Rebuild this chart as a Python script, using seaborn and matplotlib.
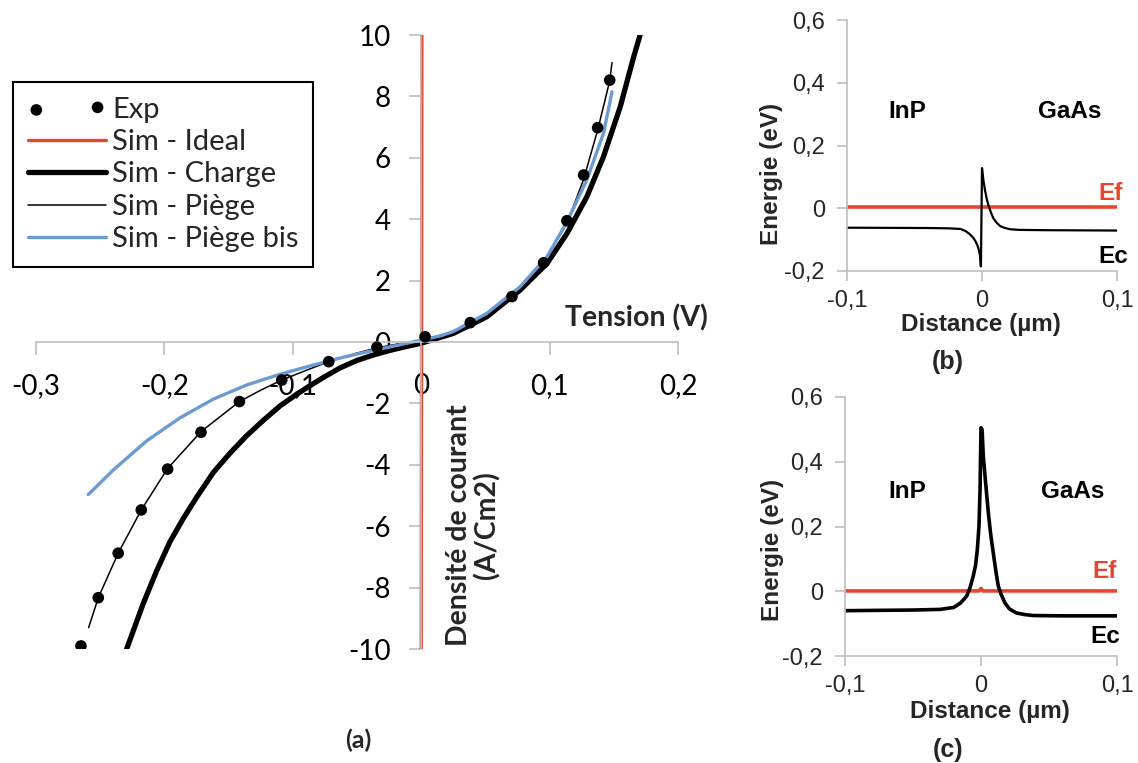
import matplotlib.pyplot as plt
import seaborn as sns

# --- (a) courbes J(V) ---
exp_v = [-0.265, -0.2515, -0.236, -0.218, -0.1975, -0.1715, -0.1416, -0.1086, -0.072, -0.0345,
         0.003, 0.0382, 0.0707, 0.0953, 0.1135, 0.1265, 0.1374, 0.1468]
exp_j = [-9.9, -8.33, -6.88, -5.47, -4.14, -2.94, -1.94, -1.24, -0.64, -0.17,
         0.17, 0.63, 1.48, 2.58, 3.95, 5.44, 6.98, 8.53]

ideal_v = [0.0, 0.0005]
ideal_j = [-10.0, 10.0]

charge_v = [-0.2294, -0.2164, -0.206, -0.1956, -0.1853, -0.1748, -0.1619, -0.1489, -0.1359, -0.1229,
            -0.1099, -0.0969, -0.0865, -0.076, -0.063, -0.05, -0.037, -0.024, -0.012, 0.0,
            0.025, 0.051, 0.077, 0.098, 0.1136, 0.129, 0.142, 0.155, 0.1655, 0.1705]
charge_j = [-10.0, -8.51, -7.45, -6.5, -5.75, -5.05, -4.25, -3.62, -3.05, -2.55,
            -2.08, -1.7, -1.42, -1.15, -0.84, -0.6, -0.42, -0.27, -0.15, -0.04,
            0.28, 0.82, 1.69, 2.56, 3.54, 4.73, 6.04, 7.66, 9.29, 10.0]

piege_v = [-0.259, -0.2515, -0.236, -0.218, -0.1975, -0.1715, -0.1416, -0.125, -0.1086, -0.09,
           -0.072, -0.05, -0.0345, -0.015, 0.0, 0.025, 0.05, 0.077, 0.098, 0.1136, 0.1265,
           0.1374, 0.1468, 0.1486]
piege_j = [-9.3, -8.33, -6.88, -5.47, -4.12, -2.92, -1.94, -1.57, -1.24, -0.93,
           -0.64, -0.36, -0.19, -0.04, 0.05, 0.33, 0.86, 1.74, 2.76, 3.87, 5.3,
           6.9, 8.5, 9.1]

bis_v = [-0.2593, -0.2398, -0.2138, -0.1878, -0.1619, -0.1359, -0.1099, -0.0865, -0.063, -0.037,
         -0.011, 0.015, 0.025, 0.051, 0.077, 0.098, 0.1136, 0.129, 0.142, 0.1486]
bis_j = [-4.97, -4.17, -3.22, -2.47, -1.86, -1.4, -1.05, -0.78, -0.52, -0.27,
         -0.04, 0.2, 0.34, 0.93, 1.8, 2.78, 3.92, 5.28, 6.8, 8.15]

v_ticks = [-0.3, -0.2, -0.1, 0.0, 0.1, 0.2]
j_ticks = [-10, -8, -6, -4, -2, 0, 2, 4, 6, 8, 10]

# --- (b) et (c) diagrammes de bande ---
b_x = [-0.1, -0.04, -0.025, -0.016, -0.012, -0.009, -0.0065, -0.005, -0.0035, -0.0025, -0.0015,
       -0.0008, 0.0, 0.001, 0.0022, 0.0035, 0.0047, 0.0065, 0.0084, 0.011, 0.0135, 0.017, 0.021,
       0.028, 0.05, 0.1]
b_ec = [-0.062, -0.063, -0.064, -0.066, -0.073, -0.083, -0.094, -0.104, -0.117, -0.13, -0.15,
        -0.185, 0.128, 0.09, 0.058, 0.03, 0.01, -0.012, -0.032, -0.047, -0.057, -0.063, -0.067,
        -0.069, -0.07, -0.071]
b_ef_x = [-0.1, 0.1]
b_ef = [0.005, 0.005]

c_x = [-0.1, -0.05, -0.03, -0.02, -0.015, -0.0105, -0.008, -0.0057, -0.004, -0.0027, -0.0015,
       -0.0007, 0.0, 0.0008, 0.0017, 0.0035, 0.0054, 0.007, 0.009, 0.011, 0.0127, 0.015, 0.0176,
       0.021, 0.026, 0.032, 0.0385, 0.06, 0.1]
c_ec = [-0.06, -0.058, -0.056, -0.05, -0.036, -0.015, 0.012, 0.047, 0.08, 0.129, 0.2,
        0.314, 0.505, 0.5, 0.417, 0.33, 0.242, 0.18, 0.119, 0.06, 0.016, -0.012, -0.036,
        -0.055, -0.067, -0.072, -0.075, -0.076, -0.076]
c_ef_x = [-0.1, -0.0015, 0.0, 0.0015, 0.1]
c_ef = [0.001, 0.001, 0.009, 0.001, 0.001]

dist_ticks = [-0.1, 0.0, 0.1]
e_ticks = [-0.2, 0.0, 0.2, 0.4, 0.6]

RED = '#e8452f'
BLUE = '#6b9bd2'
GRAY = '#bfbfbf'
ARIAL = ['Liberation Sans', 'DejaVu Sans']


def virgule(v):
    return ('%g' % v).replace('.', ',')


sns.set_style('white')
plt.rcParams['font.family'] = ['Lato', 'DejaVu Sans']

fig = plt.figure(figsize=(11.38, 7.63), dpi=100)

# ---------------- (a) ----------------
ax = fig.add_axes([36 / 1138, 1 - 649 / 763, 642 / 1138, 614 / 763])
sns.lineplot(x=ideal_v, y=ideal_j, sort=False, estimator=None, color=RED, lw=2.4, ax=ax, label='Sim - Ideal')
sns.lineplot(x=charge_v, y=charge_j, sort=False, estimator=None, color='black', lw=3.8, ax=ax, label='Sim - Charge')
sns.lineplot(x=piege_v, y=piege_j, sort=False, estimator=None, color='black', lw=1.1, ax=ax, label='Sim - Piège')
sns.lineplot(x=bis_v, y=bis_j, sort=False, estimator=None, color=BLUE, lw=2.4, ax=ax, label='Sim - Piège bis')
sns.scatterplot(x=exp_v, y=exp_j, color='black', s=70, edgecolor='none', ax=ax, label='Exp', zorder=5)
ax.set_xlim(-0.3, 0.2)
ax.set_ylim(-10, 10)
for s in ['top', 'right']:
    ax.spines[s].set_visible(False)
ax.spines['left'].set_position(('data', 0))
ax.spines['bottom'].set_position(('data', 0))
for s in ['left', 'bottom']:
    ax.spines[s].set_color(GRAY)
    ax.spines[s].set_linewidth(1.2)
ax.set_xticks(v_ticks, [virgule(v) for v in v_ticks], fontsize=20)
ax.set_yticks(j_ticks, [str(j) for j in j_ticks], fontsize=20)
ax.tick_params(axis='both', direction='out', length=9, width=1.2, color=GRAY, pad=13, labelcolor='black')
ax.tick_params(axis='both', which='both', bottom=True, left=True)
ax.get_legend().remove()
ax.text(1.047, 0.539, 'Tension (V)', transform=ax.transAxes, ha='right', va='center',
        fontsize=20.5, fontweight='bold')
ax.text(0.681, 0.202, 'Densité de courant\n(A/Cm2)', transform=ax.transAxes, rotation=90,
        ha='center', va='center', ma='center', fontsize=20.5, fontweight='bold', linespacing=1.05)

h, l = ax.get_legend_handles_labels()
order = [l.index(n) for n in ['Exp', 'Sim - Ideal', 'Sim - Charge', 'Sim - Piège', 'Sim - Piège bis']]
leg = fig.legend([h[i] for i in order], [l[i] for i in order], loc='upper left',
                 bbox_to_anchor=(13 / 1138, 1 - 82 / 763), fontsize=21, scatterpoints=2,
                 handlelength=2.7, handletextpad=0.2, borderpad=0.5, labelspacing=0.22,
                 frameon=True, fancybox=False, edgecolor='black', framealpha=1, borderaxespad=0)
leg.get_frame().set_linewidth(1.5)
fig.text(358 / 1138, 1 - 740 / 763, '(a)', ha='center', va='center', fontsize=18, fontweight='bold')


# ---------------- (b) et (c) ----------------
def bande(axe, x, ec, ef_x, ef, ec_lw, ylab_xy, xlab_xy, textes):
    sns.lineplot(x=ef_x, y=ef, sort=False, estimator=None, color=RED, lw=2.6, ax=axe)
    sns.lineplot(x=x, y=ec, sort=False, estimator=None, color='black', lw=ec_lw, ax=axe)
    axe.set_xlim(-0.1, 0.1)
    axe.set_ylim(-0.2, 0.6)
    for s in ['top', 'right']:
        axe.spines[s].set_visible(False)
    for s in ['left', 'bottom']:
        axe.spines[s].set_color(GRAY)
        axe.spines[s].set_linewidth(1.2)
    axe.set_xticks(dist_ticks, [virgule(v) for v in dist_ticks], fontsize=17, family=ARIAL)
    axe.set_yticks(e_ticks, [virgule(v) for v in e_ticks], fontsize=17, family=ARIAL)
    axe.tick_params(axis='both', direction='out', length=7, width=1.2, color=GRAY, pad=9)
    axe.tick_params(axis='x', pad=7)
    axe.tick_params(axis='both', bottom=True, left=True)
    axe.text(ylab_xy[0], ylab_xy[1], 'Energie (eV)', transform=axe.transAxes, rotation=90,
             ha='center', va='center', fontsize=17.5, fontweight='bold', family=ARIAL)
    axe.text(xlab_xy[0], xlab_xy[1], 'Distance (µm)', transform=axe.transAxes,
             ha='center', va='center', fontsize=17.5, fontweight='bold', family=ARIAL)
    for tx, ty, txt, col, ha in textes:
        axe.text(tx, ty, txt, ha=ha, va='center', color=col, fontsize=17.5,
                 fontweight='bold', family=ARIAL)


ax_b = fig.add_axes([847 / 1138, 1 - 271 / 763, 270 / 1138, 251 / 763])
bande(ax_b, b_x, b_ec, b_ef_x, b_ef, 1.6, (-0.278, 0.386), (0.496, -0.215),
      [(-0.0556, 0.307, 'InP', 'black', 'center'), (0.065, 0.307, 'GaAs', 'black', 'center'),
       (0.1044, 0.048, 'Ef', RED, 'right'), (0.108, -0.155, 'Ec', 'black', 'right')])
fig.text(948 / 1138, 1 - 362 / 763, '(b)', ha='center', va='center', fontsize=18,
         fontweight='bold', family=ARIAL)

ax_c = fig.add_axes([845 / 1138, 1 - 656 / 763, 272 / 1138, 259 / 763])
bande(ax_c, c_x, c_ec, c_ef_x, c_ef, 2.6, (-0.265, 0.409), (0.533, -0.215),
      [(-0.0544, 0.308, 'InP', 'black', 'center'), (0.0676, 0.308, 'GaAs', 'black', 'center'),
       (0.1, 0.061, 'Ef', RED, 'right'), (0.102, -0.14, 'Ec', 'black', 'right')])
fig.text(948 / 1138, 1 - 750 / 763, '(c)', ha='center', va='center', fontsize=18,
         fontweight='bold', family=ARIAL)

fig.savefig('out.png', dpi=100)
